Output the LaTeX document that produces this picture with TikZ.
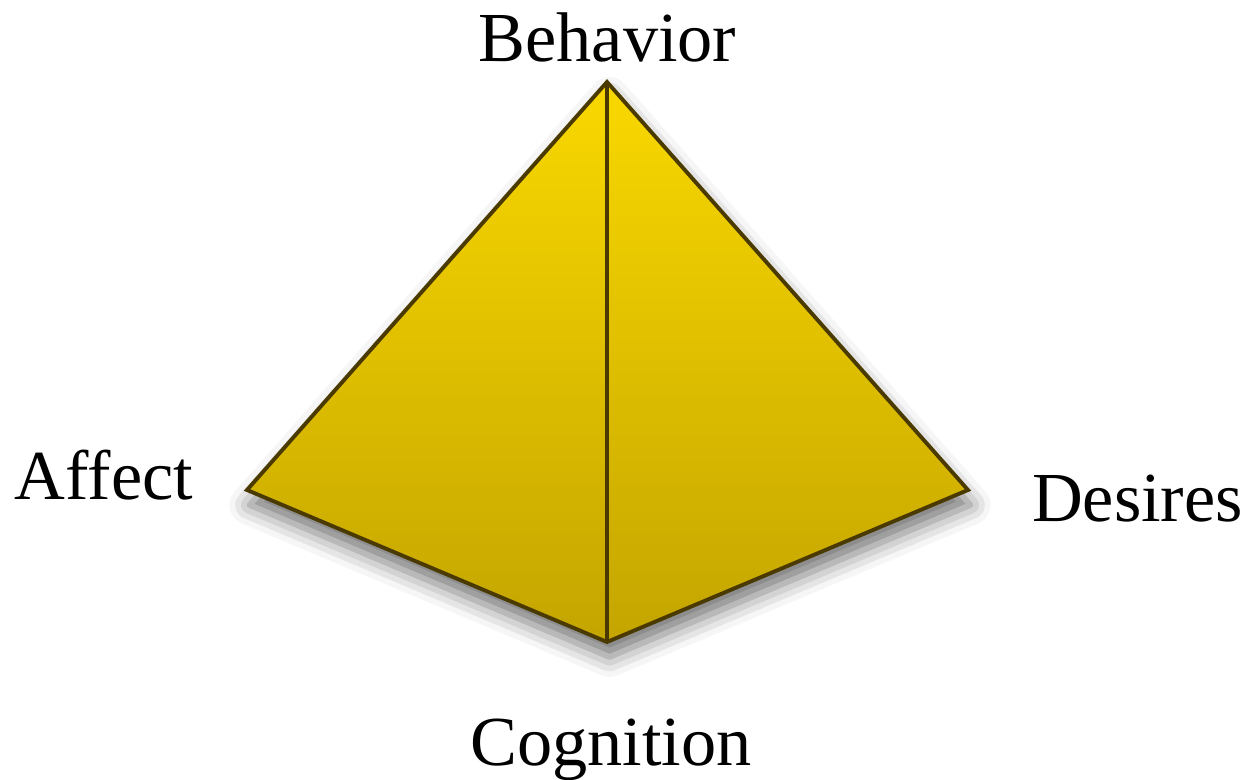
\documentclass[tikz,border=0pt]{standalone}
\usepackage{fontspec}
\setmainfont{Liberation Serif}
\usetikzlibrary{shadows.blur}
\definecolor{pyrtop}{HTML}{F9D800}
\definecolor{pyrbot}{HTML}{C4A500}
\definecolor{pyredge}{HTML}{4A3A00}

\tikzset{
  face/.style={top color=pyrtop,bottom color=pyrbot,draw=none},
  rim/.style={draw=pyredge,line width=2.2pt,line join=miter},
  corner/.style={font=\fontsize{40}{48}\selectfont,anchor=base,inner sep=0pt}
}

\begin{document}
\begin{tikzpicture}
\useasboundingbox (0,0) rectangle (25.02,15.58);

\coordinate (top) at (12.14,13.94);
\coordinate (lft) at (4.94,5.78);
\coordinate (rgt) at (19.36,5.78);
\coordinate (bot) at (12.14,2.74);

% shadow under the pyramid
\fill[white,blur shadow={shadow xshift=0.05cm,shadow yshift=-0.3cm,shadow blur radius=0.4cm,shadow opacity=55}]
  (top) -- (lft) -- (bot) -- (rgt) -- cycle;

\fill[face] (top) -- (lft) -- (bot) -- cycle;
\fill[face] (top) -- (rgt) -- (bot) -- cycle;
\draw[rim] (top) -- (lft) -- (bot) -- (rgt) -- cycle;
\draw[rim] (top) -- (bot);

\node[corner] (behavior) at (12.15,14.34) {Behavior};
\node[corner] (affect) at (2.08,5.58) {Affect};
\node[corner] (desires) at (22.75,5.14) {Desires};
\node[corner] (cognition) at (12.22,0.28) {Cognition};
\end{tikzpicture}
\end{document}
